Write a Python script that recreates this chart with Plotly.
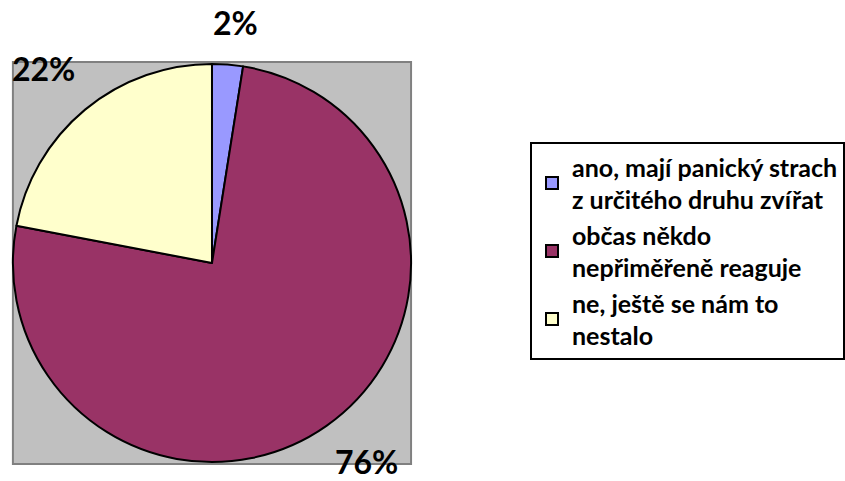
import plotly.graph_objects as go

labels = ["ano, mají panický strach<br>z určitého druhu zvířat",
          "občas někdo<br>nepřiměřeně reaguje",
          "ne, ještě se nám to<br>nestalo"]
values = [2.5, 75.5, 22.0]
value_text = ["2%", "76%", "22%"]
colors = ["#9999FF", "#993366", "#FFFFCC"]

W, H = 845, 481
x0, x1 = 13 / W, 414 / W
y0, y1 = (H - 464) / H, (H - 62) / H

fig = go.Figure(go.Pie(
    labels=labels,
    values=values,
    textinfo="none",
    marker=dict(colors=colors, line=dict(color="black", width=2)),
    sort=False,
    direction="clockwise",
    rotation=0,
    domain=dict(x=[x0, x1], y=[y0, y1]),
    hoverinfo="label+percent",
))

fig.add_shape(type="rect", xref="paper", yref="paper",
              x0=x0, x1=x1, y0=y0, y1=y1,
              fillcolor="#C0C0C0", line=dict(color="#808080", width=2),
              layer="below")

# percentage labels outside the pie
label_pos = [(237, 22.5), (369, 461.5), (43.5, 68)]
for txt, (px_, py_) in zip(value_text, label_pos):
    fig.add_annotation(x=px_ / W, y=(H - py_) / H, xref="paper", yref="paper",
                       text=txt, showarrow=False, xanchor="center", yanchor="middle",
                       font=dict(family="Lato", size=32, color="black", weight="bold"))

fig.update_layout(
    width=W, height=H,
    margin=dict(l=0, r=0, t=0, b=0),
    paper_bgcolor="white",
    font=dict(family="Lato", color="black"),
    legend=dict(
        x=534 / W, y=(H - 142) / H, xanchor="left", yanchor="top",
        font=dict(family="Lato", size=25, color="black", weight="bold"),
        bordercolor="black", borderwidth=2, bgcolor="white",
    ),
    showlegend=True,
)

fig.write_html("out.html", config={"displayModeBar": False},
               post_script="document.body.style.margin='0';")
